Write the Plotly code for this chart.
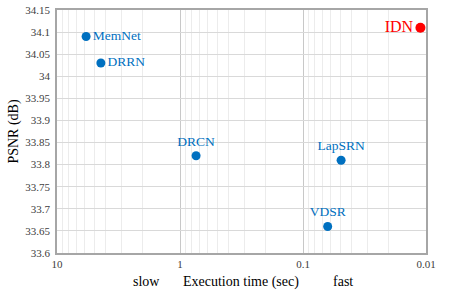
import plotly.graph_objects as go

methods = ["MemNet", "DRRN", "DRCN", "LapSRN", "VDSR"]
times = [5.8, 4.4, 0.74, 0.049, 0.063]
psnr = [34.09, 34.03, 33.82, 33.81, 33.66]
positions = ["middle right", "middle right", "top center", "top center", "top center"]

ours_name = ["IDN"]
ours_time = [0.0111]
ours_psnr = [34.11]

x_tickvals = [10, 1, 0.1, 0.01]
x_ticktext = ["10", "1", "0.1", "0.01"]
minor_vals = [m * d for d in [0.01, 0.1, 1] for m in range(2, 10)]
y_tickvals = [33.6 + 0.05 * i for i in range(12)]
y_ticktext = ["33.6", "33.65", "33.7", "33.75", "33.8", "33.85", "33.9",
              "33.95", "34", "34.05", "34.1", "34.15"]

FF = "Liberation Serif"

fig = go.Figure()
fig.add_trace(go.Scatter(
    x=times, y=psnr, mode="markers+text", text=methods,
    textposition=positions,
    marker=dict(color="#0070C0", size=9),
    textfont=dict(color="#0070C0", size=13.5, family=FF),
    showlegend=False, cliponaxis=False))
fig.add_trace(go.Scatter(
    x=ours_time, y=ours_psnr, mode="markers+text", text=ours_name,
    textposition="middle left",
    marker=dict(color="#FF0000", size=10),
    textfont=dict(color="#FF0000", size=16, family=FF),
    showlegend=False, cliponaxis=False))

fig.update_layout(
    width=457, height=295, autosize=False,
    margin=dict(l=57, r=31, t=10, b=42, autoexpand=False),
    plot_bgcolor="white", paper_bgcolor="white",
    font=dict(family=FF, color="#000000", size=12),
)
fig.update_xaxes(
    type="log", range=[1, -2], tickvals=x_tickvals, ticktext=x_ticktext,
    showgrid=True, gridcolor="#c8c8c8", gridwidth=1,
    minor=dict(tickvals=minor_vals, showgrid=True, gridcolor="#ececec", ticklen=0),
    showline=True, linecolor="#a6a6a6", mirror=True, linewidth=1.5,
    ticks="", tickfont=dict(size=11, color="#404040", family=FF), zeroline=False,
    automargin=False,
)
fig.update_yaxes(
    range=[33.6, 34.15], tickvals=y_tickvals, ticktext=y_ticktext,
    showgrid=True, gridcolor="#d9d9d9", gridwidth=1,
    showline=True, linecolor="#a6a6a6", mirror=True, linewidth=1.5,
    ticks="", tickfont=dict(size=11, color="#404040", family=FF), zeroline=False,
    automargin=False, ticklabelstandoff=3,
)
fig.add_annotation(text="PSNR (dB)", xref="paper", yref="paper",
                   x=-0.119, y=0.5, textangle=-90, showarrow=False,
                   xanchor="center", yanchor="middle",
                   font=dict(size=14, color="#000000", family=FF))
for txt, xp in [("Execution time (sec)", 0.499), ("slow", 0.2), ("fast", 0.808)]:
    fig.add_annotation(text=txt, xref="paper", yref="paper",
                       x=xp, y=-0.077, yanchor="top", showarrow=False,
                       font=dict(size=14, color="#000000", family=FF))

fig.write_html("out.html", post_script="document.body.style.margin='0';",
               config={"displayModeBar": False})
